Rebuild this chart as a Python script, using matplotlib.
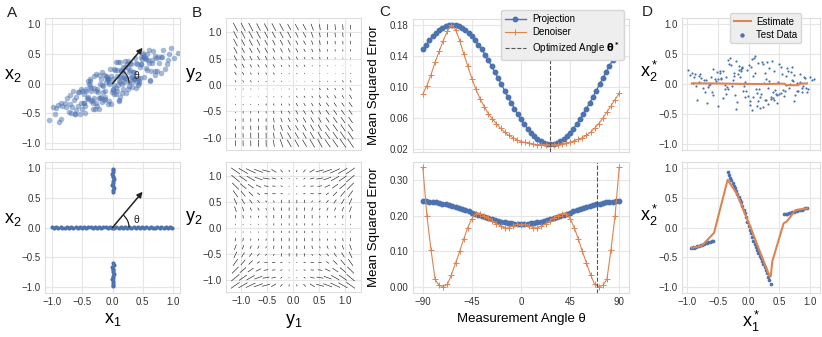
import matplotlib
matplotlib.use('Agg')
import matplotlib.pyplot as plt
import numpy as np
from matplotlib.patches import Arc
from matplotlib.ticker import FormatStrFormatter

BLUE = '#4C72B0'
ORANGE = '#DD8452'

# ---------------- panel A : training data ----------------
cloud_x = [0.12, -0.35, 0.48, -0.05, 0.27, -0.61, 0.03, 0.39, -0.22, 0.15,
           -0.44, 0.71, -0.18, 0.09, -0.83, 0.33, 0.56, -0.27, 0.01, -0.09,
           0.22, -0.52, 0.93, -0.31, 0.44, -0.14, 0.18, -0.69, 0.61, -0.02,
           0.36, -0.40, 0.05, -0.75, 0.29, 0.81, -0.24, 0.13, -0.58, 0.47,
           -0.11, 0.52, -0.96, 0.07, -0.33, 0.66, 0.20, -0.47, 1.02, -0.19,
           0.31, -0.63, 0.14, -0.06, 0.42, -0.28, 0.75, -0.37, 0.00, 0.24,
           -0.86, 0.58, -0.16, 0.38, -0.50, 0.10, 0.87, -0.23, 0.49, -0.71,
           0.17, -0.42, 0.63, -0.08, 0.28, -1.05, 0.45, -0.30, 0.06, 0.97,
           -0.54, 0.26, -0.13, 0.72, -0.39, 0.11, -0.67, 0.35, -0.20, 0.55,
           -0.04, 0.40, -0.79, 0.19, -0.26, 0.84, -0.45, 0.08, 0.64, -0.12,
           0.29, -0.57, 0.02, 0.50, -0.34, 0.16, -0.91, 0.43, -0.07, 0.68,
           -0.21, 0.77, -0.48, 0.13, -0.64, 0.32, -0.01, 0.59, -0.38, 0.23,
           -0.73, 0.46, -0.10, 0.90, -0.29, 0.04, 0.37, -0.55, 0.15, -0.17,
           0.53, -0.36, 0.25, -0.88, 0.70, -0.15, 0.10, -0.46, 0.34, -0.03,
           0.60, -0.25, -0.66, 0.21, 1.08, -0.41, 0.07, 0.44, -0.12, -0.98,
           0.18, -0.51, 0.82, -0.32, 0.03, 0.27, -0.77, 0.51, -0.19, 0.39,
           -0.08, 0.65, -0.44, 0.12, -0.60, 0.30, 0.92, -0.27, 0.05, -0.85,
           0.41, -0.14, 0.74, -0.37, 0.20, -0.70, 0.57, -0.05, 0.33, -0.47,
           0.09, -0.30, 0.48, -0.93, 0.26, -0.09, 0.62, -0.53, 0.14, 0.80,
           -0.40, 0.36, -0.18, 0.01, 0.54, -0.62, 0.19, -0.35, 0.70, -0.23]
cloud_y = [0.11, -0.30, 0.45, -0.01, -0.04, -0.22, -0.03, 0.34, 0.14, 0.00,
           -0.12, 0.21, -0.31, 0.36, -0.38, 0.11, 0.41, -0.33, 0.08, 0.11,
           -0.16, -0.09, 0.50, -0.25, 0.01, 0.15, 0.20, -0.49, 0.57, -0.34,
           0.19, 0.04, -0.08, -0.25, 0.34, 0.17, -0.14, -0.22, -0.37, 0.32,
           0.03, 0.44, -0.52, -0.12, -0.42, 0.34, 0.38, -0.18, 0.42, -0.23,
           0.11, -0.52, 0.21, -0.29, 0.09, 0.16, 0.45, -0.04, -0.09, 0.33,
           -0.32, 0.22, -0.04, 0.42, -0.43, 0.04, 0.25, -0.42, 0.41, -0.34,
           0.28, -0.25, 0.04, 0.07, 0.20, -0.62, 0.09, 0.12, -0.18, 0.59,
           -0.51, 0.26, -0.22, 0.42, 0.00, -0.29, -0.40, 0.07, -0.01, 0.26,
           0.24, 0.02, -0.32, 0.03, -0.10, 0.57, -0.50, 0.22, 0.21, -0.26,
           0.23, -0.14, -0.18, 0.48, -0.27, 0.11, -0.36, -0.03, 0.08, 0.54,
           -0.25, 0.34, -0.33, 0.36, -0.27, -0.06, -0.14, 0.39, 0.05, 0.09,
           -0.48, 0.27, 0.12, 0.33, -0.43, 0.22, 0.10, -0.15, -0.16, -0.02,
           0.11, -0.13, 0.37, -0.65, 0.47, -0.14, -0.27, -0.38, 0.20, 0.13,
           0.35, -0.37, -0.13, 0.27, 0.51, -0.22, 0.13, 0.04, -0.13, -0.39,
           -0.10, -0.12, 0.44, -0.33, 0.25, 0.03, -0.39, 0.51, 0.07, -0.07,
           -0.34, 0.40, -0.10, 0.02, -0.44, 0.33, 0.39, -0.13, 0.36, -0.59,
           0.33, -0.28, 0.21, 0.07, 0.08, -0.19, 0.50, 0.02, 0.03, -0.32,
           -0.03, -0.07, 0.33, -0.41, -0.10, 0.07, 0.06, -0.32, 0.22, 0.44,
           -0.26, 0.08, 0.19, -0.11, 0.42, -0.51, 0.11, -0.08, 0.15, -0.24]

band_x = [-1.00, -0.97, -0.93, -0.90, -0.86, -0.83, -0.79, -0.76, -0.72, -0.69,
          -0.65, -0.61, -0.58, -0.54, -0.51, -0.47, -0.44, -0.40, -0.36, -0.33,
          -0.29, -0.26, -0.22, -0.19, -0.15, -0.11, -0.08, -0.04, -0.01, 0.03,
          0.06, 0.10, 0.14, 0.17, 0.21, 0.24, 0.28, 0.31, 0.35, 0.39,
          0.42, 0.46, 0.49, 0.53, 0.56, 0.60, 0.64, 0.67, 0.71, 0.74,
          0.78, 0.81, 0.85, 0.89, 0.92, 0.96, 0.99]
band_y = [0.005, -0.010, 0.012, -0.004, 0.008, -0.012, 0.000, 0.010, -0.007, 0.003,
          -0.011, 0.009, -0.002, 0.013, -0.008, 0.004, -0.013, 0.007, 0.001, -0.009,
          0.011, -0.003, 0.006, -0.012, 0.002, 0.010, -0.006, 0.008, -0.010, 0.000,
          0.012, -0.005, 0.004, -0.011, 0.009, -0.001, 0.007, -0.008, 0.013, -0.004,
          0.002, -0.012, 0.010, -0.006, 0.005, -0.009, 0.011, 0.000, -0.013, 0.006,
          -0.003, 0.009, -0.007, 0.012, -0.010, 0.003, -0.005]
spike_up_y = [0.60, 0.63, 0.66, 0.69, 0.72, 0.75, 0.78, 0.81, 0.84, 0.87, 0.90, 0.93, 0.96, 0.99]
spike_up_x = [0.012, 0.000, 0.020, 0.008, -0.004, 0.015, 0.005, 0.018, 0.002, 0.011, -0.002, 0.016, 0.007, 0.010]
spike_dn_y = [-0.60, -0.63, -0.66, -0.69, -0.72, -0.75, -0.78, -0.81, -0.84, -0.87, -0.90, -0.93, -0.96, -0.99]
spike_dn_x = [0.006, 0.017, -0.003, 0.012, 0.009, 0.002, 0.019, 0.004, 0.014, -0.001, 0.010, 0.016, 0.003, 0.008]

arrow_tip = (0.5, 0.6)
arrow_deg = 50

# ---------------- panel B : vector fields (length code 0-9, angle in degrees) ----------------
top_len = [[8, 8, 8, 7, 7, 7, 7, 6, 6, 6, 6, 5, 5, 5, 5, 4],
           [7, 7, 7, 7, 6, 6, 6, 6, 5, 5, 5, 4, 4, 4, 4, 3],
           [7, 6, 6, 6, 5, 5, 5, 5, 4, 4, 4, 4, 3, 3, 3, 3],
           [6, 5, 5, 5, 5, 4, 4, 4, 4, 3, 3, 3, 2, 2, 2, 2],
           [5, 5, 4, 4, 4, 3, 3, 3, 3, 2, 2, 2, 2, 1, 1, 1],
           [4, 4, 3, 3, 3, 3, 2, 2, 2, 2, 1, 1, 1, 0, 0, 0],
           [3, 3, 2, 2, 2, 2, 1, 1, 1, 1, 0, 0, 0, 0, 1, 1],
           [2, 2, 2, 1, 1, 1, 1, 0, 0, 0, 1, 1, 1, 1, 2, 2],
           [1, 1, 1, 0, 0, 0, 0, 1, 1, 1, 1, 2, 2, 2, 2, 3],
           [0, 0, 0, 0, 1, 1, 1, 1, 2, 2, 2, 3, 3, 3, 3, 4],
           [1, 1, 1, 1, 2, 2, 2, 2, 3, 3, 3, 3, 4, 4, 4, 5],
           [1, 2, 2, 2, 2, 3, 3, 3, 4, 4, 4, 4, 5, 5, 5, 5],
           [2, 3, 3, 3, 3, 4, 4, 4, 4, 5, 5, 5, 5, 6, 6, 6],
           [3, 3, 4, 4, 4, 5, 5, 5, 5, 6, 6, 6, 6, 7, 7, 7],
           [4, 4, 5, 5, 5, 5, 6, 6, 6, 6, 7, 7, 7, 7, 8, 8],
           [5, 5, 5, 6, 6, 6, 7, 7, 7, 7, 8, 8, 8, 8, 9, 9]]
top_ang = [[118, 118, 118, 118, 118, 118, 118, 118, 118, 118, 110, 100, 95, 95, 95, 95],
           [118, 118, 118, 118, 118, 118, 118, 118, 118, 118, 110, 100, 95, 95, 95, 95],
           [118, 118, 118, 118, 118, 118, 118, 118, 118, 118, 110, 100, 95, 95, 95, 95],
           [118, 118, 118, 118, 118, 118, 118, 118, 118, 118, 110, 100, 95, 95, 95, 95],
           [118, 118, 118, 118, 118, 118, 118, 118, 118, 118, 110, 100, 95, 95, 95, 95],
           [120, 120, 120, 120, 120, 120, 120, 120, 120, 120, 120, 120, 120, 120, 120, 120],
           [120, 120, 120, 120, 120, 120, 120, 120, 120, 120, 120, 120, 120, 120, 120, 120],
           [120, 120, 120, 120, 120, 120, 120, 120, 120, 120, 120, 120, 120, 120, 120, 120],
           [120, 120, 120, 120, 120, 120, 120, 120, 120, 120, 120, 120, 120, 120, 120, 120],
           [120, 120, 120, 120, 120, 120, 120, 120, 120, 120, 120, 120, 120, 120, 120, 120],
           [92, 92, 92, 92, 92, 100, 110, 120, 120, 120, 120, 120, 125, 125, 125, 125],
           [92, 92, 92, 92, 92, 100, 110, 120, 120, 120, 120, 120, 125, 125, 125, 125],
           [92, 92, 92, 92, 92, 100, 110, 120, 120, 120, 120, 120, 125, 125, 125, 125],
           [92, 92, 92, 92, 92, 100, 110, 120, 120, 120, 120, 120, 125, 125, 125, 125],
           [92, 92, 92, 92, 92, 100, 110, 120, 120, 120, 120, 120, 125, 125, 125, 125],
           [92, 92, 92, 92, 92, 100, 110, 120, 120, 120, 120, 120, 125, 125, 125, 125]]

bot_len = [[9, 9, 9, 8, 7, 5, 3, 2, 2, 3, 5, 7, 8, 9, 9, 9],
           [9, 8, 8, 7, 6, 4, 2, 1, 1, 2, 4, 6, 7, 8, 8, 9],
           [8, 7, 6, 5, 4, 3, 2, 1, 1, 2, 3, 4, 5, 6, 7, 8],
           [7, 6, 5, 3, 3, 3, 2, 1, 1, 2, 3, 3, 3, 5, 6, 7],
           [6, 5, 4, 3, 2, 2, 3, 3, 3, 3, 2, 2, 3, 4, 5, 6],
           [5, 4, 3, 3, 2, 3, 3, 3, 3, 3, 3, 2, 3, 3, 4, 5],
           [3, 3, 2, 2, 2, 3, 3, 3, 3, 3, 3, 2, 2, 2, 3, 3],
           [1, 1, 1, 1, 1, 2, 2, 2, 2, 2, 2, 1, 1, 1, 1, 1],
           [1, 1, 1, 1, 1, 2, 2, 2, 2, 2, 2, 1, 1, 1, 1, 1],
           [3, 3, 2, 2, 2, 3, 3, 3, 3, 3, 3, 2, 2, 2, 3, 3],
           [5, 4, 3, 3, 2, 3, 3, 3, 3, 3, 3, 2, 3, 3, 4, 5],
           [6, 5, 4, 3, 2, 2, 3, 3, 3, 3, 2, 2, 3, 4, 5, 6],
           [7, 6, 5, 3, 3, 3, 2, 1, 1, 2, 3, 3, 3, 5, 6, 7],
           [8, 7, 6, 5, 4, 3, 2, 1, 1, 2, 3, 4, 5, 6, 7, 8],
           [9, 8, 8, 7, 6, 4, 2, 1, 1, 2, 4, 6, 7, 8, 8, 9],
           [9, 9, 9, 8, 7, 5, 3, 2, 2, 3, 5, 7, 8, 9, 9, 9]]
bot_ang = [[145, 150, 155, 160, 165, 150, 130, 100, 80, 50, 30, 15, 20, 25, 30, 35],
           [140, 145, 150, 160, 170, 165, 140, 100, 80, 40, 15, 10, 20, 30, 35, 40],
           [135, 140, 145, 155, 170, 175, 160, 95, 85, 20, 5, 10, 25, 35, 40, 45],
           [125, 130, 135, 145, 175, 180, 180, 90, 90, 0, 0, 5, 35, 45, 50, 55],
           [115, 120, 125, 130, 140, 120, 100, 90, 90, 80, 60, 40, 50, 55, 60, 65],
           [110, 110, 115, 115, 110, 100, 95, 90, 90, 85, 80, 70, 65, 65, 70, 70],
           [100, 100, 100, 100, 95, 90, 90, 90, 90, 90, 90, 85, 80, 80, 80, 80],
           [95, 95, 90, 90, 90, 90, 90, 90, 90, 90, 90, 90, 90, 90, 85, 85],
           [85, 85, 90, 90, 90, 90, 90, 90, 90, 90, 90, 90, 90, 90, 95, 95],
           [80, 80, 80, 80, 85, 90, 90, 90, 90, 90, 90, 95, 100, 100, 100, 100],
           [70, 70, 65, 65, 70, 80, 85, 90, 90, 95, 100, 110, 115, 115, 110, 110],
           [65, 60, 55, 50, 40, 60, 80, 90, 90, 100, 120, 140, 130, 125, 120, 115],
           [55, 50, 45, 35, 5, 0, 0, 90, 90, 180, 180, 175, 145, 135, 130, 125],
           [45, 40, 35, 25, 10, 5, 20, 85, 95, 160, 175, 170, 155, 145, 140, 135],
           [40, 35, 30, 20, 10, 15, 40, 80, 100, 140, 165, 170, 160, 150, 145, 140],
           [35, 30, 25, 20, 15, 30, 50, 80, 100, 130, 150, 165, 160, 155, 150, 145]]

# ---------------- panel C : error vs measurement angle ----------------
proj_top = [0.1485, 0.1547, 0.1603, 0.1654, 0.1698, 0.1734, 0.1763, 0.1783, 0.1796, 0.1800,
            0.1796, 0.1783, 0.1763, 0.1734, 0.1698, 0.1654, 0.1603, 0.1547, 0.1485, 0.1418,
            0.1346, 0.1271, 0.1194, 0.1115, 0.1035, 0.0955, 0.0876, 0.0799, 0.0724, 0.0653,
            0.0585, 0.0523, 0.0467, 0.0416, 0.0372, 0.0336, 0.0307, 0.0287, 0.0274, 0.0270,
            0.0274, 0.0287, 0.0307, 0.0336, 0.0372, 0.0416, 0.0467, 0.0523, 0.0585, 0.0653,
            0.0724, 0.0799, 0.0876, 0.0955, 0.1035, 0.1115, 0.1194, 0.1271, 0.1346, 0.1418,
            0.1485]
proj_bot = [0.2400, 0.2398, 0.2393, 0.2385, 0.2373, 0.2358, 0.2340, 0.2319, 0.2296, 0.2270,
            0.2243, 0.2213, 0.2182, 0.2150, 0.2118, 0.2085, 0.2052, 0.2020, 0.1988, 0.1957,
            0.1928, 0.1900, 0.1874, 0.1851, 0.1830, 0.1812, 0.1797, 0.1785, 0.1777, 0.1772,
            0.1770,
            0.1772, 0.1777, 0.1785, 0.1797, 0.1812, 0.1830, 0.1851, 0.1874, 0.1900, 0.1928,
            0.1957, 0.1988, 0.2020, 0.2052, 0.2085, 0.2118, 0.2150, 0.2182, 0.2213, 0.2243,
            0.2270, 0.2296, 0.2319, 0.2340, 0.2358, 0.2373, 0.2385, 0.2393, 0.2398, 0.2400]
den_top = [0.091, 0.102, 0.116, 0.132, 0.146, 0.160, 0.172, 0.180, 0.174, 0.160,
           0.143, 0.127, 0.111, 0.097, 0.085, 0.075, 0.066, 0.059, 0.053, 0.047,
           0.042, 0.038, 0.035, 0.032, 0.030, 0.029, 0.028, 0.027, 0.026, 0.026,
           0.026, 0.026, 0.026, 0.026, 0.027, 0.028, 0.029, 0.031, 0.033, 0.035,
           0.038, 0.042, 0.047, 0.053, 0.060, 0.068, 0.076, 0.084, 0.092]
den_bot = [0.335, 0.200, 0.105, 0.022, 0.005, 0.002, 0.008, 0.035, 0.068, 0.100,
           0.135, 0.167, 0.192, 0.206, 0.206, 0.200, 0.193, 0.185, 0.178, 0.171,
           0.166, 0.166, 0.172, 0.176, 0.175,
           0.176, 0.172, 0.166, 0.166, 0.171, 0.178, 0.185, 0.193, 0.200, 0.206,
           0.206, 0.192, 0.167, 0.135, 0.100, 0.068, 0.035, 0.008, 0.002, 0.005,
           0.022, 0.105, 0.200, 0.335]
theta_proj = np.linspace(-90, 90, len(proj_top))
theta_den = np.linspace(-90, 90, len(den_top))
opt_top = 27
opt_bot = 70

# ---------------- panel D : test data and estimates ----------------
test1_x = [-0.95, 0.12, -0.41, 0.78, 0.33, -0.67, 0.05, 0.91, -0.22, 0.48,
           -0.83, 0.27, -0.08, 0.62, -0.55, 0.19, 0.99, -0.31, 0.40, -0.74,
           0.02, 0.71, -0.47, 0.15, -0.90, 0.56, -0.16, 0.84, -0.38, 0.09,
           0.45, -0.61, 0.23, -0.02, 0.67, -0.80, 0.36, -0.26, 0.94, -0.12,
           0.52, -0.70, 0.07, 0.30, -0.44, 0.76, -0.19, 0.60, -0.87, 0.17,
           -0.05, 0.42, -0.58, 0.88, -0.29, 0.13, 0.69, -0.50, 0.25, -0.98,
           0.81, -0.35, 0.04, 0.58, -0.64, 0.38, -0.14, 1.03, -0.42, 0.21,
           -0.77, 0.50, -0.09, 0.73, -0.24, 0.11, 0.86, -0.53, 0.31, -0.01,
           0.64, -0.85, 0.28, -0.33, 0.47, -0.11, 0.97, -0.60, 0.16, 0.39,
           -0.72, 0.55, -0.20, 0.08, -0.46, 0.79, -0.36, 0.26, -0.92, 0.66,
           0.00, -0.57, 0.43, -0.15, 0.74, -0.27, 0.14, 0.90, -0.49, 0.34,
           -0.06, 0.59, -0.81, 0.22, -0.39, 0.70, -0.17, 0.46, -0.66, 1.06,
           0.10, -0.30, 0.53, -0.89, 0.29, -0.04, 0.83, -0.52, 0.18, -0.23,
           0.61, -0.45, 0.37, -0.10, 0.95, -0.69, 0.24, -0.34, 0.50, -0.13,
           0.03, 0.72, -0.63, 0.32, -0.21, 0.87, -0.78, 0.41, 0.06, -0.37]
test1_y = [0.15, -0.08, 0.22, -0.12, 0.05, -0.31, 0.41, 0.10, -0.19, 0.03,
           -0.27, 0.18, -0.04, 0.26, 0.09, -0.22, 0.12, 0.34, -0.14, -0.06,
           -0.35, 0.07, 0.19, -0.28, 0.02, -0.10, 0.30, 0.16, -0.02, 0.44,
           -0.17, 0.11, -0.39, 0.24, 0.00, 0.13, -0.25, 0.06, -0.07, 0.21,
           0.28, -0.13, -0.21, 0.36, 0.08, -0.18, -0.30, 0.14, 0.17, -0.09,
           0.04, -0.26, 0.25, -0.03, 0.32, -0.15, 0.20, -0.37, 0.01, 0.23,
           -0.11, -0.05, 0.29, -0.20, -0.01, 0.38, 0.12, 0.07, -0.24, -0.16,
           0.10, 0.33, -0.12, -0.29, 0.18, 0.47, -0.07, 0.05, -0.33, -0.20,
           0.22, -0.04, 0.09, 0.40, -0.18, 0.27, -0.09, -0.14, 0.35, -0.23,
           0.06, 0.17, -0.42, 0.13, 0.21, 0.02, -0.16, -0.27, 0.19, -0.06,
           0.31, -0.19, -0.10, 0.24, 0.15, -0.03, -0.36, 0.11, 0.08, 0.26,
           -0.22, -0.12, 0.04, 0.37, -0.08, 0.29, 0.16, -0.31, -0.05, 0.09,
           0.18, 0.43, -0.15, 0.12, -0.26, -0.11, 0.03, 0.20, -0.40, 0.14,
           -0.02, 0.10, -0.21, 0.28, -0.13, 0.07, 0.34, -0.09, -0.17, 0.25,
           -0.28, 0.05, 0.00, -0.07, 0.38, -0.14, 0.16, 0.22, -0.44, 0.11]
est1_x = [-0.92, -0.60, -0.30, 0.00, 0.30, 0.58, 0.62, 0.80, 0.84, 0.95]
est1_y = [0.010, 0.010, 0.005, 0.000, 0.000, 0.005, -0.020, -0.020, 0.005, 0.010]

test2_x = [-0.93, -0.90, -0.88, -0.85, -0.83, -0.80, -0.77, -0.75, -0.72, -0.70,
           -0.67, -0.65, -0.62, -0.60, -0.57,
           -0.34, -0.32, -0.30, -0.28, -0.26, -0.24, -0.22, -0.20, -0.18, -0.16,
           -0.14, -0.12, -0.10, -0.08, -0.06, -0.04, -0.02, 0.00, 0.02, 0.04,
           0.06, 0.08, 0.10, 0.12, 0.14, 0.16, 0.18, 0.20, 0.22, 0.24,
           0.26, 0.28, 0.30, 0.32, 0.34, 0.36,
           0.57, 0.60, 0.62, 0.65, 0.68, 0.70, 0.73, 0.76, 0.78, 0.81,
           0.84, 0.86, 0.89, 0.92, 0.95]
test2_y = [-0.35, -0.33, -0.34, -0.32, -0.31, -0.31, -0.29, -0.30, -0.27, -0.26,
           -0.26, -0.24, -0.24, -0.22, -0.22,
           0.93, 0.88, 0.83, 0.79, 0.74, 0.70, 0.66, 0.61, 0.57, 0.52,
           0.47, 0.42, 0.36, 0.30, 0.24, 0.17, 0.10, 0.03, -0.04, -0.10,
           -0.16, -0.22, -0.28, -0.33, -0.38, -0.43, -0.48, -0.52, -0.57, -0.62,
           -0.67, -0.72, -0.77, -0.83, -0.89, -0.95,
           0.22, 0.23, 0.23, 0.24, 0.25, 0.26, 0.26, 0.27, 0.28, 0.29,
           0.29, 0.30, 0.31, 0.33, 0.33]
est2_x = [-0.92, -0.76, -0.67, -0.56, -0.34, -0.19, 0.03, 0.34, 0.36, 0.385, 0.57, 0.62, 0.76, 0.95]
est2_y = [-0.34, -0.31, -0.21, -0.09, 0.80, 0.57, 0.01, -0.82, -0.82, -0.57, 0.07, 0.10, 0.29, 0.32]

plt.rcParams['font.family'] = ['Liberation Sans', 'DejaVu Sans']

W, H = 822, 337
fig = plt.figure(figsize=(W / 100, H / 100), dpi=100)


def add_ax(left, top, right, bottom):
    return fig.add_axes([left / W, 1 - bottom / H, (right - left) / W, (bottom - top) / H])


def style(ax):
    ax.grid(True, color='#e6e6e6', lw=0.8)
    ax.set_axisbelow(True)
    for sp in ax.spines.values():
        sp.set_color('#dddddd')
        sp.set_linewidth(0.8)
    ax.tick_params(length=0, labelsize=7, labelcolor='#333333', pad=3)


big = 13
unit_ticks = [-1, -0.5, 0, 0.5, 1]

axA1 = add_ax(45, 18, 180, 149)
axA2 = add_ax(45, 162, 180, 293)
axB1 = add_ax(226, 18, 361, 150)
axB2 = add_ax(226, 162, 361, 292)
axC1 = add_ax(413, 19, 629, 152)
axC2 = add_ax(413, 162, 629, 293)
axD1 = add_ax(682, 18, 820, 150)
axD2 = add_ax(682, 162, 820, 293)

for ax in [axA1, axA2, axB1, axB2, axC1, axC2, axD1, axD2]:
    style(ax)

# ---- A ----
axA1.scatter(cloud_x, cloud_y, s=16, color=BLUE, alpha=0.5, lw=0)
axA2.scatter(band_x, band_y, s=9, color=BLUE, lw=0)
axA2.scatter(spike_up_x, spike_up_y, s=9, color=BLUE, lw=0)
axA2.scatter(spike_dn_x, spike_dn_y, s=9, color=BLUE, lw=0)
for ax in [axA1, axA2]:
    ax.annotate('', xy=arrow_tip, xytext=(0, 0),
                arrowprops=dict(arrowstyle='-|>', color='#222222', lw=1.1,
                                mutation_scale=8, shrinkA=0, shrinkB=0))
    ax.add_patch(Arc((0, 0), 0.55, 0.55, theta1=0, theta2=arrow_deg, color='#222222', lw=0.9))
    ax.text(0.35, 0.12, 'θ', fontsize=7.5, color='#222222', ha='left', va='center')
    ax.set_xticks(unit_ticks)
    ax.set_yticks(unit_ticks)
    ax.set_xlim(-1.12, 1.12)
    ax.set_ylim(-1.1, 1.1)
    ax.set_ylabel(r'$\mathregular{x_2}$', fontsize=big, rotation=0)
    ax.yaxis.set_label_coords(-0.24, 0.5)
axA1.tick_params(labelbottom=False)
axA2.set_xlabel(r'$\mathregular{x_1}$', fontsize=big)
axA2.xaxis.set_label_coords(0.5, -0.14)

# ---- B ----
grid = np.linspace(-1.1, 1.1, 16)
GX, GY = np.meshgrid(grid, grid[::-1])
k = 0.023
for ax, L, A in [(axB1, top_len, top_ang), (axB2, bot_len, bot_ang)]:
    L = np.array(L, dtype=float)
    A = np.deg2rad(np.array(A, dtype=float))
    ax.quiver(GX, GY, L * np.cos(A) * k, L * np.sin(A) * k, angles='xy', scale_units='xy',
              scale=1, pivot='mid', width=0.005, headwidth=1.6, headlength=1.6,
              headaxislength=1.5, color='#333333')
    ax.set_xticks(unit_ticks)
    ax.set_yticks(unit_ticks)
    ax.set_xlim(-1.28, 1.3)
    ax.set_ylim(-1.23, 1.27)
    ax.set_ylabel(r'$\mathregular{y_2}$', fontsize=big, rotation=0)
    ax.yaxis.set_label_coords(-0.24, 0.5)
axB1.tick_params(labelbottom=False)
axB2.set_xlabel(r'$\mathregular{y_1}$', fontsize=big)
axB2.xaxis.set_label_coords(0.5, -0.15)

# ---- C ----
for ax, P, D, opt in [(axC1, proj_top, den_top, opt_top), (axC2, proj_bot, den_bot, opt_bot)]:
    ax.plot(theta_proj, P, '-o', color=BLUE, ms=3.2, lw=1, label='Projection')
    ax.plot(theta_den, D, '-+', color=ORANGE, ms=4, mew=0.7, lw=0.8, label='Denoiser')
    ax.axvline(opt, color='#555555', ls='--', lw=0.8, label=r'Optimized Angle $\mathbf{\theta^*}$')
    ax.set_xticks([-90, -45, 0, 45, 90])
    ax.set_xlim(-99, 99)
    ax.yaxis.set_major_formatter(FormatStrFormatter('%.2f'))
    ax.set_ylabel('Mean Squared Error', fontsize=9.5)
    ax.yaxis.set_label_coords(-0.155, 0.5)
axC1.set_yticks([0.02, 0.06, 0.10, 0.14, 0.18])
axC1.set_ylim(0.0165, 0.1877)
axC2.set_yticks([0.0, 0.1, 0.2, 0.3])
axC2.set_ylim(-0.016, 0.35)
axC1.tick_params(labelbottom=False)
axC2.set_xlabel('Measurement Angle θ', fontsize=9.5)
axC2.xaxis.set_label_coords(0.5, -0.155)
axC1.legend(loc='upper right', bbox_to_anchor=(0.975, 1.065), borderaxespad=0, fontsize=7,
            facecolor='#eeeeee', edgecolor='#d6d6d6', framealpha=1, handlelength=2.2,
            labelspacing=0.3, borderpad=0.4, handletextpad=0.6)

# ---- D ----
axD1.scatter(test1_x, test1_y, s=2.5, color=BLUE, lw=0, label='Test Data', zorder=2)
axD1.plot(est1_x, est1_y, color=ORANGE, lw=1.5, label='Estimate', zorder=3)
axD2.scatter(test2_x, test2_y, s=7, color=BLUE, lw=0, zorder=2)
axD2.plot(est2_x, est2_y, color=ORANGE, lw=1.5, zorder=3)
for ax in [axD1, axD2]:
    ax.set_xticks(unit_ticks)
    ax.set_yticks(unit_ticks)
    ax.set_xlim(-1.08, 1.16)
    ax.set_ylim(-1.1, 1.1)
    ax.set_ylabel(r'$\mathregular{x^*_2}$', fontsize=big, rotation=0)
    ax.yaxis.set_label_coords(-0.24, 0.5)
axD1.tick_params(labelbottom=False)
axD2.set_xlabel(r'$\mathregular{x^*_1}$', fontsize=big)
axD2.xaxis.set_label_coords(0.5, -0.12)
handles, labels = axD1.get_legend_handles_labels()
axD1.legend(handles[::-1], labels[::-1], loc='upper right', bbox_to_anchor=(0.862, 1.04),
            borderaxespad=0, fontsize=7, facecolor='#eeeeee', edgecolor='#d6d6d6',
            framealpha=1, handlelength=1.8, labelspacing=0.3, borderpad=0.4,
            handletextpad=0.5, scatterpoints=1, markerscale=2)

for letter, px, py in [('A', 12, 13), ('B', 197, 13), ('C', 385, 12), ('D', 647, 12)]:
    fig.text(px / W, 1 - py / H, letter, fontsize=11, ha='center', va='center', color='#222222')

fig.savefig('out.png', dpi=100)
